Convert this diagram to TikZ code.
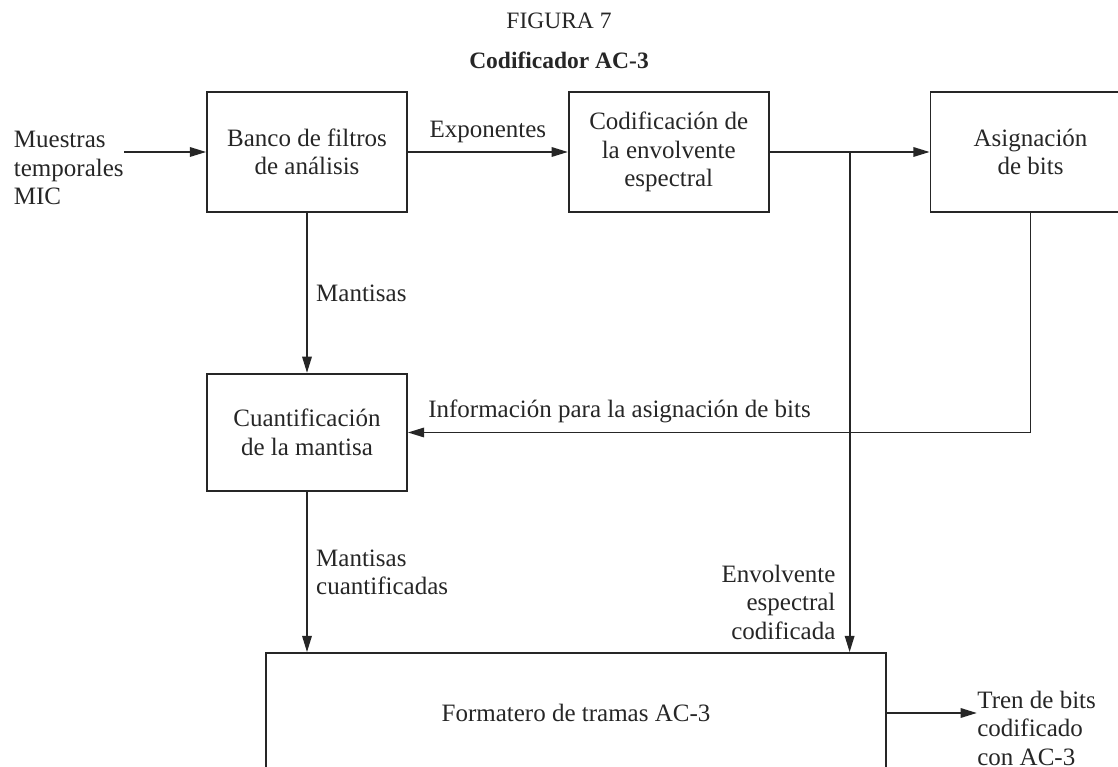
\documentclass[tikz,border=0pt]{standalone}
\usepackage{fontspec}
\setmainfont{Liberation Serif}
\usetikzlibrary{arrows.meta,positioning,calc}
\definecolor{ink}{RGB}{38,38,38}

\begin{document}
\begin{tikzpicture}[
  node distance=64pt and 64pt,
  every node/.style={text=ink,font=\fontsize{10}{11.4}\selectfont},
  blk/.style={draw=ink,line width=0.7pt,align=center,minimum width=80pt,minimum height=48pt,inner sep=2pt},
  lbl/.style={align=left,inner sep=0pt},
  ar/.style={draw=ink,line width=0.7pt,-{Triangle[length=6.5pt,width=3.8pt]}}
]
\useasboundingbox (0,0) rectangle (447.2pt,-306.8pt);
\clip (0,0) rectangle (447.2pt,-306.8pt);
\node[font=\fontsize{9.4}{11}\selectfont] (fig) at (223.6pt,-8.4pt) {FIGURA 7};
\node[font=\fontsize{9.4}{11}\selectfont\bfseries] (tit) at (223.6pt,-24pt) {Codificador AC-3};
\node[blk] (banco) at (122.8pt,-60.8pt) {Banco de filtros\\de análisis};
\node[blk,right=of banco] (env) {Codificación de\\la envolvente\\espectral};
\node[blk,right=of env] (asig) {Asignación\\de bits};
\node[blk,below=of banco,minimum height=47pt] (cuant) {Cuantificación\\de la mantisa};
\node[blk,below=of cuant,minimum width=248pt,xshift=107.6pt] (fmt) {Formatero de tramas AC-3};
\node[lbl,left=32.8pt of banco,yshift=-6.4pt] (mic) {Muestras\\temporales\\MIC};
\node[lbl,right=36pt of fmt,yshift=-6pt] (tren) {Tren de bits\\codificado\\con AC-3};
\coordinate (jn) at ($(env.east)!0.5!(asig.west)$);
\draw[ar] (mic.east |- banco.west) -- (banco.west);
\draw[ar] (banco) -- node[above]{Exponentes} (env);
\draw[ar] (env) -- (asig);
\draw[ar] (banco) -- node[right]{Mantisas} (cuant);
\draw[ar] (asig.south) |- node[pos=0.83,above]{Información para la asignación de bits} (cuant.east);
\draw[ar] (cuant) -- node[right,align=left]{Mantisas\\cuantificadas} (cuant.south |- fmt.north);
\draw[ar] (jn) -- node[pos=0.9,left,align=right,xshift=-2pt]{Envolvente\\espectral\\codificada} (jn |- fmt.north);
\draw[ar] (fmt) -- (tren.west |- fmt.east);
\end{tikzpicture}
\end{document}
